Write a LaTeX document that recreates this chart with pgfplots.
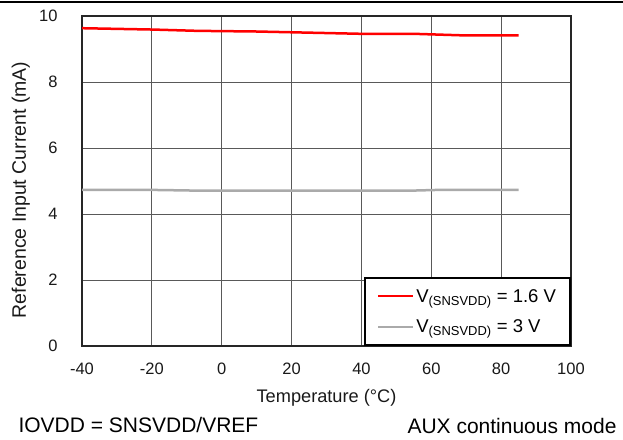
\documentclass[border=0pt]{standalone}
\usepackage{fontspec}
\setmainfont{Liberation Sans}
\usepackage{pgfplots}
\pgfplotsset{compat=1.18}
\definecolor{redline}{RGB}{255,0,0}
\definecolor{grayline}{RGB}{170,170,170}
\begin{document}
\begin{tikzpicture}[x=1pt,y=1pt]
\path[use as bounding box] (0,0) rectangle (623,439);
\draw[line width=1.5pt] (0,437) -- (623,437);
\begin{axis}[
  at={(82pt,93pt)}, anchor=south west,
  scale only axis, width=489pt, height=330pt,
  xmin=-40, xmax=100, ymin=0, ymax=10,
  xtick={-40,-20,...,100}, ytick={0,2,...,10},
  grid=major,
  major grid style={draw=black!65, line width=0.9pt},
  axis line style={line width=2pt, draw=black!85},
  tick style={draw=none},
  /pgf/number format/assume math mode=true,
  ticklabel style={font=\fontsize{16.5}{19}\selectfont, text=black!90},
  xticklabel shift=13pt,
  yticklabel shift=21pt,
  xlabel={Temperature (°C)},
  ylabel={Reference Input Current (mA)},
  label style={text=black!90},
  xlabel style={font=\fontsize{18.2}{21}\selectfont, at={(axis description cs:0.5,-0.172)}, anchor=base},
  ylabel style={font=\fontsize{19.5}{22}\selectfont, at={(axis description cs:-0.125,0.473)}, anchor=center},
  legend style={at={(axis description cs:1,0)}, anchor=south east,
    draw=black, line width=2pt, inner xsep=12pt, inner ysep=9pt,
    row sep=12pt, font=\fontsize{18.5}{22}\selectfont, legend cell align=left,
    /tikz/every even column/.style={column sep=4pt}},
  legend image code/.code={\draw[#1, line width=2pt] (0pt,0pt) -- (35pt,0pt);},
]
\addplot[redline, line width=2.5pt] coordinates {
(-40,9.63) (-20,9.59) (-7,9.55) (10,9.53) (40,9.46) (55,9.46) (70,9.41) (85,9.41)
};
\addlegendentry{V\textsubscript{(SNSVDD)} = 1.6 V}
\addplot[grayline, line width=2.5pt] coordinates {
(-40,4.73) (-20,4.73) (-8,4.71) (0,4.71) (55,4.71) (62,4.73) (85,4.73)
};
\addlegendentry{V\textsubscript{(SNSVDD)} = 3 V}
\end{axis}
\node[anchor=base west, font=\fontsize{21}{24}\selectfont] at (15,7) {IOVDD = SNSVDD/VREF};
\node[anchor=base east, font=\fontsize{21}{24}\selectfont] at (620,6) {AUX continuous mode};
\end{tikzpicture}
\end{document}
